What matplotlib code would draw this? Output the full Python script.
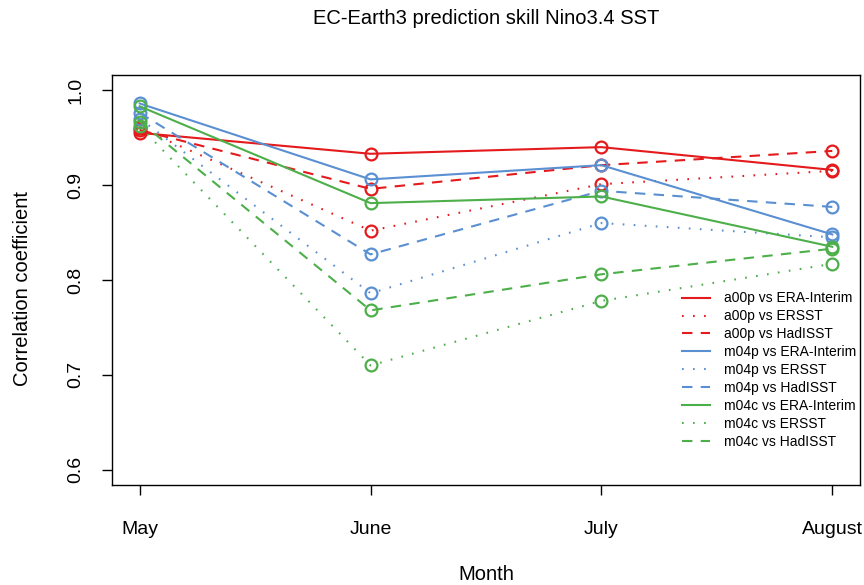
#!/usr/bin/env python3

# EC-Earth3 prediction skill for Nino3.4 SST, R base-graphics look

import matplotlib
matplotlib.use('Agg')
import matplotlib.pyplot as plt

plt.rcParams['font.family'] = ['Liberation Sans', 'DejaVu Sans']

months = ['May', 'June', 'July', 'August']

# correlation coefficients per experiment / reference dataset
a00p_era = [0.955, 0.933, 0.940, 0.916]
a00p_ersst = [0.960, 0.852, 0.901, 0.915]
a00p_hadisst = [0.958, 0.896, 0.921, 0.936]
m04p_era = [0.986, 0.906, 0.921, 0.848]
m04p_ersst = [0.970, 0.786, 0.860, 0.845]
m04p_hadisst = [0.976, 0.827, 0.894, 0.877]
m04c_era = [0.983, 0.881, 0.888, 0.835]
m04c_ersst = [0.962, 0.710, 0.778, 0.817]
m04c_hadisst = [0.967, 0.768, 0.806, 0.833]

labels = ['a00p vs ERA-Interim', 'a00p vs ERSST', 'a00p vs HadISST',
          'm04p vs ERA-Interim', 'm04p vs ERSST', 'm04p vs HadISST',
          'm04c vs ERA-Interim', 'm04c vs ERSST', 'm04c vs HadISST']

red = '#E41A1C'
blue = '#5A8FD2'
green = '#4DAF4A'

series = [
    (a00p_era, red, '-'), (a00p_ersst, red, (0, (0.8, 4.5))), (a00p_hadisst, red, (0, (5, 4))),
    (m04p_era, blue, '-'), (m04p_ersst, blue, (0, (0.8, 4.5))), (m04p_hadisst, blue, (0, (5, 4))),
    (m04c_era, green, '-'), (m04c_ersst, green, (0, (0.8, 4.5))), (m04c_hadisst, green, (0, (5, 4))),
]

fig = plt.figure(figsize=(8.64, 5.85), dpi=100)
ax = fig.add_axes([112 / 864, 100 / 585, 748 / 864, 410 / 585])

x = [1, 2, 3, 4]
for (vals, col, ls), lab in zip(series, labels):
    ax.plot(x, vals, color=col, linestyle=ls, linewidth=1.5, label=lab)
    ax.plot(x, vals, linestyle='none', marker='o', markersize=8.5,
            markerfacecolor='none', markeredgecolor=col, markeredgewidth=1.6)

ax.set_xlim(1 - 0.12, 4 + 0.12)
ax.set_ylim(0.6 - 0.016, 1.0 + 0.016)
ax.set_xticks(x)
ax.set_xticklabels(months)
ax.set_yticks([0.6, 0.7, 0.8, 0.9, 1.0])
ax.set_yticklabels(['0.6', '0.7', '0.8', '0.9', '1.0'], rotation=90, va='center')
ax.tick_params(axis='x', direction='out', length=7, width=1, pad=19, labelsize=14)
ax.tick_params(axis='y', direction='out', length=7, width=1, pad=13, labelsize=14)
for s in ax.spines.values():
    s.set_linewidth(1)

# title and axis labels placed in figure pixels like the R device
fig.text(486 / 864, 1 - 18 / 585, 'EC-Earth3 prediction skill Nino3.4 SST',
         fontsize=14.5, ha='center', va='center')
fig.text(486 / 864, 1 - 574 / 585, 'Month', fontsize=14.5, ha='center', va='center')
fig.text(23 / 864, 1 - 288 / 585, 'Correlation coefficient', fontsize=14.5,
         ha='center', va='center', rotation=90)

ax.legend(loc='upper left', bbox_to_anchor=(0.762, 0.472), frameon=False,
          fontsize=10, borderpad=0, borderaxespad=0, handlelength=2.0,
          handletextpad=1.0, labelspacing=0.28)

fig.savefig('out.png', dpi=100)
